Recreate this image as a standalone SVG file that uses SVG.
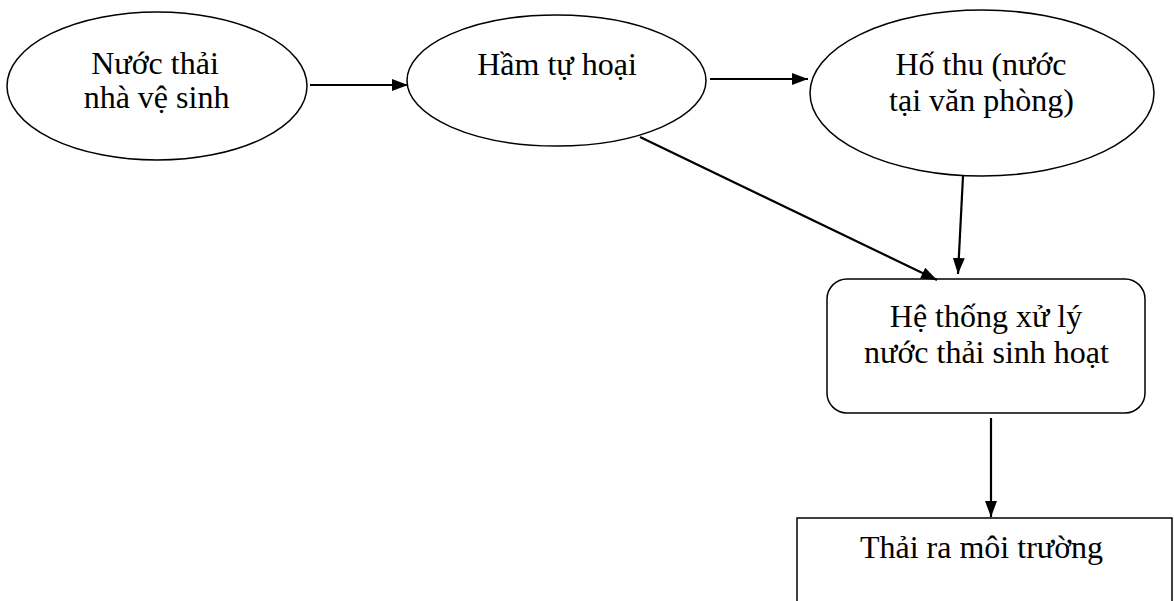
<svg xmlns="http://www.w3.org/2000/svg" width="1174" height="601" viewBox="0 0 1174 601">
<style>
.shape{fill:#fff;stroke:#000;stroke-width:1.5}
.t{font-family:"Liberation Serif","Times New Roman",serif;font-size:32px;fill:#000;text-anchor:middle}
.c{stroke:#000;stroke-width:2.2;fill:none;marker-end:url(#ah)}
</style>
<defs>
<marker id="ah" viewBox="0 0 16 12" refX="16" refY="6" markerWidth="16" markerHeight="12" markerUnits="userSpaceOnUse" orient="auto">
<path d="M0,0 L16,6 L0,12 z" fill="#000"/>
</marker>
</defs>
<rect width="1174" height="601" fill="#fff"/>
<g id="n1">
<ellipse class="shape" cx="157" cy="86" rx="150" ry="74"/>
<text class="t" x="155" y="74">Nước thải</text>
<text class="t" x="156.5" y="108">nhà vệ sinh</text>
</g>
<g id="n2">
<ellipse class="shape" cx="556.5" cy="80.5" rx="149.5" ry="65.5"/>
<text class="t" x="557" y="75">Hầm tự hoại</text>
</g>
<g id="n3">
<ellipse class="shape" cx="982" cy="93" rx="172" ry="83"/>
<text class="t" x="981" y="75">Hố thu (nước</text>
<text class="t" x="981.5" y="111">tại văn phòng)</text>
</g>
<g id="n4">
<rect class="shape" x="827" y="279" width="318" height="134" rx="20" ry="20"/>
<text class="t" x="986" y="327">Hệ thống xử lý</text>
<text class="t" x="986.5" y="363">nước thải sinh hoạt</text>
</g>
<g id="n5">
<rect class="shape" x="797" y="518" width="375" height="100"/>
<text class="t" x="981.5" y="558">Thải ra môi trường</text>
</g>
<g id="connectors">
<line class="c" x1="310" y1="85" x2="408" y2="85"/>
<line class="c" x1="710" y1="79" x2="808" y2="79"/>
<line class="c" x1="640" y1="137" x2="937" y2="280"/>
<line class="c" x1="963" y1="176" x2="958" y2="274"/>
<line class="c" x1="991" y1="418" x2="991" y2="517"/>
</g>
</svg>
